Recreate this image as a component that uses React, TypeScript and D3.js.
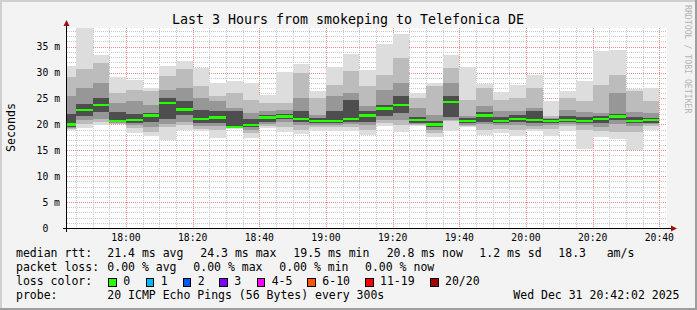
import React from 'react';
import * as d3 from 'd3';

// ---- data (milliseconds) ----
const binEnd = ['17:45','17:50','17:55','18:00','18:05','18:10','18:15','18:20','18:25','18:30','18:35','18:40',
  '18:45','18:50','18:55','19:00','19:05','19:10','19:15','19:20','19:25','19:30','19:35','19:40',
  '19:45','19:50','19:55','20:00','20:05','20:10','20:15','20:20','20:25','20:30','20:35','20:40'];
const smokeMax = [31.3,38.6,33.3,29.1,28.6,27.0,31.3,32.2,30.9,27.9,28.3,27.9,25.6,30.05,31.7,26.5,31.0,33.65,30.4,35.6,37.5,26.05,28.0,33.3,31.0,27.8,26.25,27.65,29.6,24.6,26.5,28.4,34.2,34.4,26.9,27.0];
const smokeHi2 = [29.1,30.6,31.85,26.1,26.7,26.4,29.3,30.6,27.35,25.4,26.1,24.8,24.1,24.1,29.9,25.1,27.65,30.25,27.35,29.6,32.8,25.1,27.35,30.9,24.8,27.0,24.8,25.1,27.0,21.55,25.1,24.45,27.65,29.6,26.4,24.45];
const smokeHi3 = [25.4,27.0,28.0,24.1,24.5,23.8,26.7,27.0,25.0,24.45,23.2,22.2,22.5,22.85,25.1,21.9,25.4,26.1,23.5,26.7,28.0,23.2,21.9,28.0,21.55,23.5,22.5,22.5,23.2,21.2,22.85,22.4,22.2,26.1,22.4,22.2];
const smokeHi4 = [22.0,24.0,25.1,22.4,22.0,22.2,25.1,24.45,22.85,22.5,22.6,21.0,21.8,22.0,22.5,21.2,22.5,24.8,22.5,23.8,25.4,21.5,20.6,25.4,21.2,22.3,21.5,21.8,22.6,21.0,21.6,21.5,21.6,22.0,21.5,21.3];
const medians  = [20.0,22.8,23.8,20.7,20.9,21.75,24.1,22.9,21.1,21.35,19.5,19.95,21.35,21.55,21.1,20.6,20.7,21.1,21.75,23.1,23.7,20.9,20.0,24.3,20.7,21.75,20.7,21.1,20.9,20.7,20.9,20.7,21.1,21.55,20.7,20.8];
const smokeLo4 = [19.5,21.6,22.4,20.4,20.3,20.5,21.0,21.8,20.2,20.3,19.4,19.5,20.5,21.0,20.4,20.2,20.3,20.5,20.5,21.6,22.2,20.2,19.5,21.5,20.2,20.5,20.2,20.4,20.2,20.2,20.4,20.3,20.3,20.8,20.2,20.3];
const smokeLo3 = [19.3,20.8,21.0,20.25,19.8,19.5,20.0,20.5,19.6,19.6,19.3,19.0,20.0,20.5,19.8,19.8,19.9,20.0,19.8,20.8,20.8,20.0,19.0,20.8,19.8,20.0,19.8,19.9,19.6,19.8,20.0,19.9,19.5,20.0,19.6,20.0];
const smokeLo2 = [19.1,20.0,20.4,20.15,19.3,18.5,19.5,19.8,19.2,19.0,19.25,18.4,19.6,19.5,19.0,19.5,19.4,19.4,19.0,20.2,19.8,19.8,18.3,20.6,19.6,19.0,19.2,19.0,19.2,19.2,19.6,19.0,18.8,18.5,18.5,19.6];
const smokeMin = [19.0,19.3,19.95,20.1,18.3,17.8,17.05,19.0,18.65,17.4,19.2,17.4,19.3,18.5,18.1,18.8,18.65,18.8,17.9,19.6,18.5,19.6,17.5,18.8,19.4,17.9,18.3,17.8,18.8,17.7,18.8,15.3,17.5,17.2,15.0,19.0];

const yTicks = [0, 5, 10, 15, 20, 25, 30, 35];
const yTickLabels = ['0', '5 m', '10 m', '15 m', '20 m', '25 m', '30 m', '35 m'];

const legendRows = [
  [['median rtt:', 16], ['21.4 ms avg', 107.3], ['24.3 ms max', 200.3], ['19.5 ms min', 293.3], ['20.8 ms now', 386.7], ['1.2 ms sd', 479.3], ['18.3', 558.3], ['am/s', 606.7]],
  [['packet loss:', 16], ['0.00 % avg', 107.3], ['0.00 % max', 193.3], ['0.00 % min', 279.3], ['0.00 % now', 365]],
  [['loss color:', 16]],
  [['probe:', 16], ['20 ICMP Echo Pings (56 Bytes) every 300s', 107.3], ['Wed Dec 31 20:42:02 2025', 513.3]],
] as [string, number][][];

const lossLabels = ['0', '1', '2', '3', '4-5', '6-10', '11-19', '20/20'];
const lossColors = ['#26ff00', '#00b8ff', '#0059ff', '#7e00ff', '#ff00ff', '#ff5500', '#ff0000', '#a10000'];
const lossBoxX = [108.3, 145.7, 182.7, 219.3, 256.7, 307.3, 365, 430];

// ---- layout ----
const W = 697, H = 310;
const PL = 67, PR = 667, PT = 28, PB = 228;
const MONO = '"DejaVu Sans Mono", monospace';

const at = (s: string, sec = 0) => {
  const [h, m] = s.split(':').map(Number);
  return new Date(2025, 11, 31, h, m, sec);
};

export default function App() {
  const t0 = at('17:42', 18);
  const t1 = at('20:42', 18);
  const x = d3.scaleTime().domain([t0, t1]).range([PL, PR]);
  const y = d3.scaleLinear().domain([0, 38.6]).range([PB, PT]);

  const minorV = d3.timeMinute.every(5)!.range(t0, t1).filter(d => d.getMinutes() % 20 !== 0);
  const majorV = d3.timeMinute.every(20)!.range(t0, t1);
  const minorH = d3.range(1, 39).filter(v => v % 5 !== 0);
  const majorH = yTicks.filter(v => v > 0);

  const bins = binEnd.map((e, i) => {
    const end = at(e);
    const start = d3.timeMinute.offset(end, -5);
    return { x0: x(start), x1: x(end), i };
  });

  const bands: [number[], number[], string][] = [
    [smokeMin, smokeMax, '#dddddd'],
    [smokeLo2, smokeHi2, '#bcbcbc'],
    [smokeLo3, smokeHi3, '#979797'],
    [smokeLo4, smokeHi4, '#4e4e4e'],
  ];

  return (
    <svg width={W} height={H} style={{ position: 'absolute', left: 0, top: 0, display: 'block' }}
      xmlns="http://www.w3.org/2000/svg">
      <defs>
        <clipPath id="plotclip"><rect x={PL} y={PT} width={PR - PL} height={PB - PT} /></clipPath>
      </defs>
      {/* background with shading */}
      <rect x={0} y={0} width={W} height={H} fill="#f3f3f3" />
      <rect x={0} y={0} width={W} height={2} fill="#cfcfcf" />
      <rect x={0} y={0} width={2} height={H} fill="#cfcfcf" />
      <rect x={0} y={H - 2} width={W} height={2} fill="#9e9e9e" />
      <rect x={W - 2} y={0} width={2} height={H} fill="#9e9e9e" />

      {/* canvas */}
      <rect x={PL} y={PT} width={PR - PL} height={PB - PT} fill="#ffffff" />

      {/* grid */}
      <g shapeRendering="crispEdges">
        {minorH.map(v => (
          <line key={'mh' + v} x1={PL} x2={PR} y1={Math.round(y(v)) + 0.5} y2={Math.round(y(v)) + 0.5}
            stroke="#c8c8c8" strokeDasharray="1,1" />
        ))}
        {minorV.map(d => (
          <line key={'mv' + d.getTime()} x1={Math.round(x(d)) + 0.5} x2={Math.round(x(d)) + 0.5} y1={PT} y2={PB}
            stroke="#c8c8c8" strokeDasharray="1,1" />
        ))}
        {majorH.map(v => (
          <line key={'Mh' + v} x1={PL} x2={PR} y1={Math.round(y(v)) + 0.5} y2={Math.round(y(v)) + 0.5}
            stroke="#f08c8c" strokeDasharray="1,1" />
        ))}
        {majorV.map(d => (
          <line key={'Mv' + d.getTime()} x1={Math.round(x(d)) + 0.5} x2={Math.round(x(d)) + 0.5} y1={PT} y2={PB}
            stroke="#f08c8c" strokeDasharray="1,1" />
        ))}
      </g>

      {/* smoke */}
      <g clipPath="url(#plotclip)" shapeRendering="crispEdges">
        {bands.map(([lo, hi, col], bi) =>
          bins.map(b => (
            <rect key={bi + '-' + b.i} x={b.x0} width={b.x1 - b.x0}
              y={y(hi[b.i])} height={y(lo[b.i]) - y(hi[b.i])} fill={col} />
          ))
        )}
        {bins.map(b => (
          <rect key={'med' + b.i} x={b.x0} width={b.x1 - b.x0} y={y(medians[b.i]) - 1} height={2.2} fill="#26ff00" />
        ))}
      </g>

      {/* axes */}
      <g shapeRendering="crispEdges">
        <line x1={63} x2={671} y1={PB + 0.5} y2={PB + 0.5} stroke="#000" />
        <line x1={PL - 0.5} x2={PL - 0.5} y1={25} y2={232} stroke="#000" />
      </g>
      <path d={`M${PL - 3.5},${26} L${PL + 2.5},${26} L${PL - 0.5},${20} Z`} fill="#a01010" />
      <path d={`M${671},${PB - 2.5} L${671},${PB + 3.5} L${677},${PB + 0.5} Z`} fill="#a01010" />

      {/* y tick labels */}
      {yTicks.map((v, i) => (
        <text key={'yl' + v} x={i === 0 ? 48.3 : 60} y={y(v) + 3.6} textAnchor="end"
          fontFamily={MONO} fontSize={9.75} fill="#000">{i === 0 ? '0' : yTickLabels[i]}</text>
      ))}
      {/* x tick labels */}
      {majorV.map(d => (
        <text key={'xl' + d.getTime()} x={x(d)} y={241} textAnchor="middle"
          fontFamily={MONO} fontSize={9.75} fill="#000">{d3.timeFormat('%H:%M')(d)}</text>
      ))}

      {/* titles */}
      <text x={348} y={23.5} textAnchor="middle" fontFamily={MONO} fontSize={13.3} fill="#000">
        Last 3 Hours from smokeping to Telefonica DE
      </text>
      <text transform="translate(15,127.5) rotate(-90)" textAnchor="middle" fontFamily={MONO} fontSize={11.6} fill="#000">
        Seconds
      </text>
      <text transform="translate(685,5) rotate(90)" textAnchor="start" fontFamily={MONO} fontSize={8.2} fill="#b4b4b4">
        RRDTOOL / TOBI OETIKER
      </text>

      {/* legend */}
      {legendRows.map((row, ri) =>
        row.map(([t, lx], ci) => (
          <text key={'lg' + ri + '-' + ci} x={lx} y={257 + ri * 14} fontFamily={MONO} fontSize={11.5} fill="#000"
            style={{ whiteSpace: 'pre' }}>{t}</text>
        ))
      )}
      {lossLabels.map((l, i) => (
        <g key={'loss' + i}>
          <rect x={lossBoxX[i] + 0.5} y={278.5} width={7.5} height={7.5} fill={lossColors[i]} stroke="#000" strokeWidth={1} shapeRendering="crispEdges" />
          <text x={lossBoxX[i] + 15} y={285} fontFamily={MONO} fontSize={11.5} fill="#000">{l}</text>
        </g>
      ))}
    </svg>
  );
}
